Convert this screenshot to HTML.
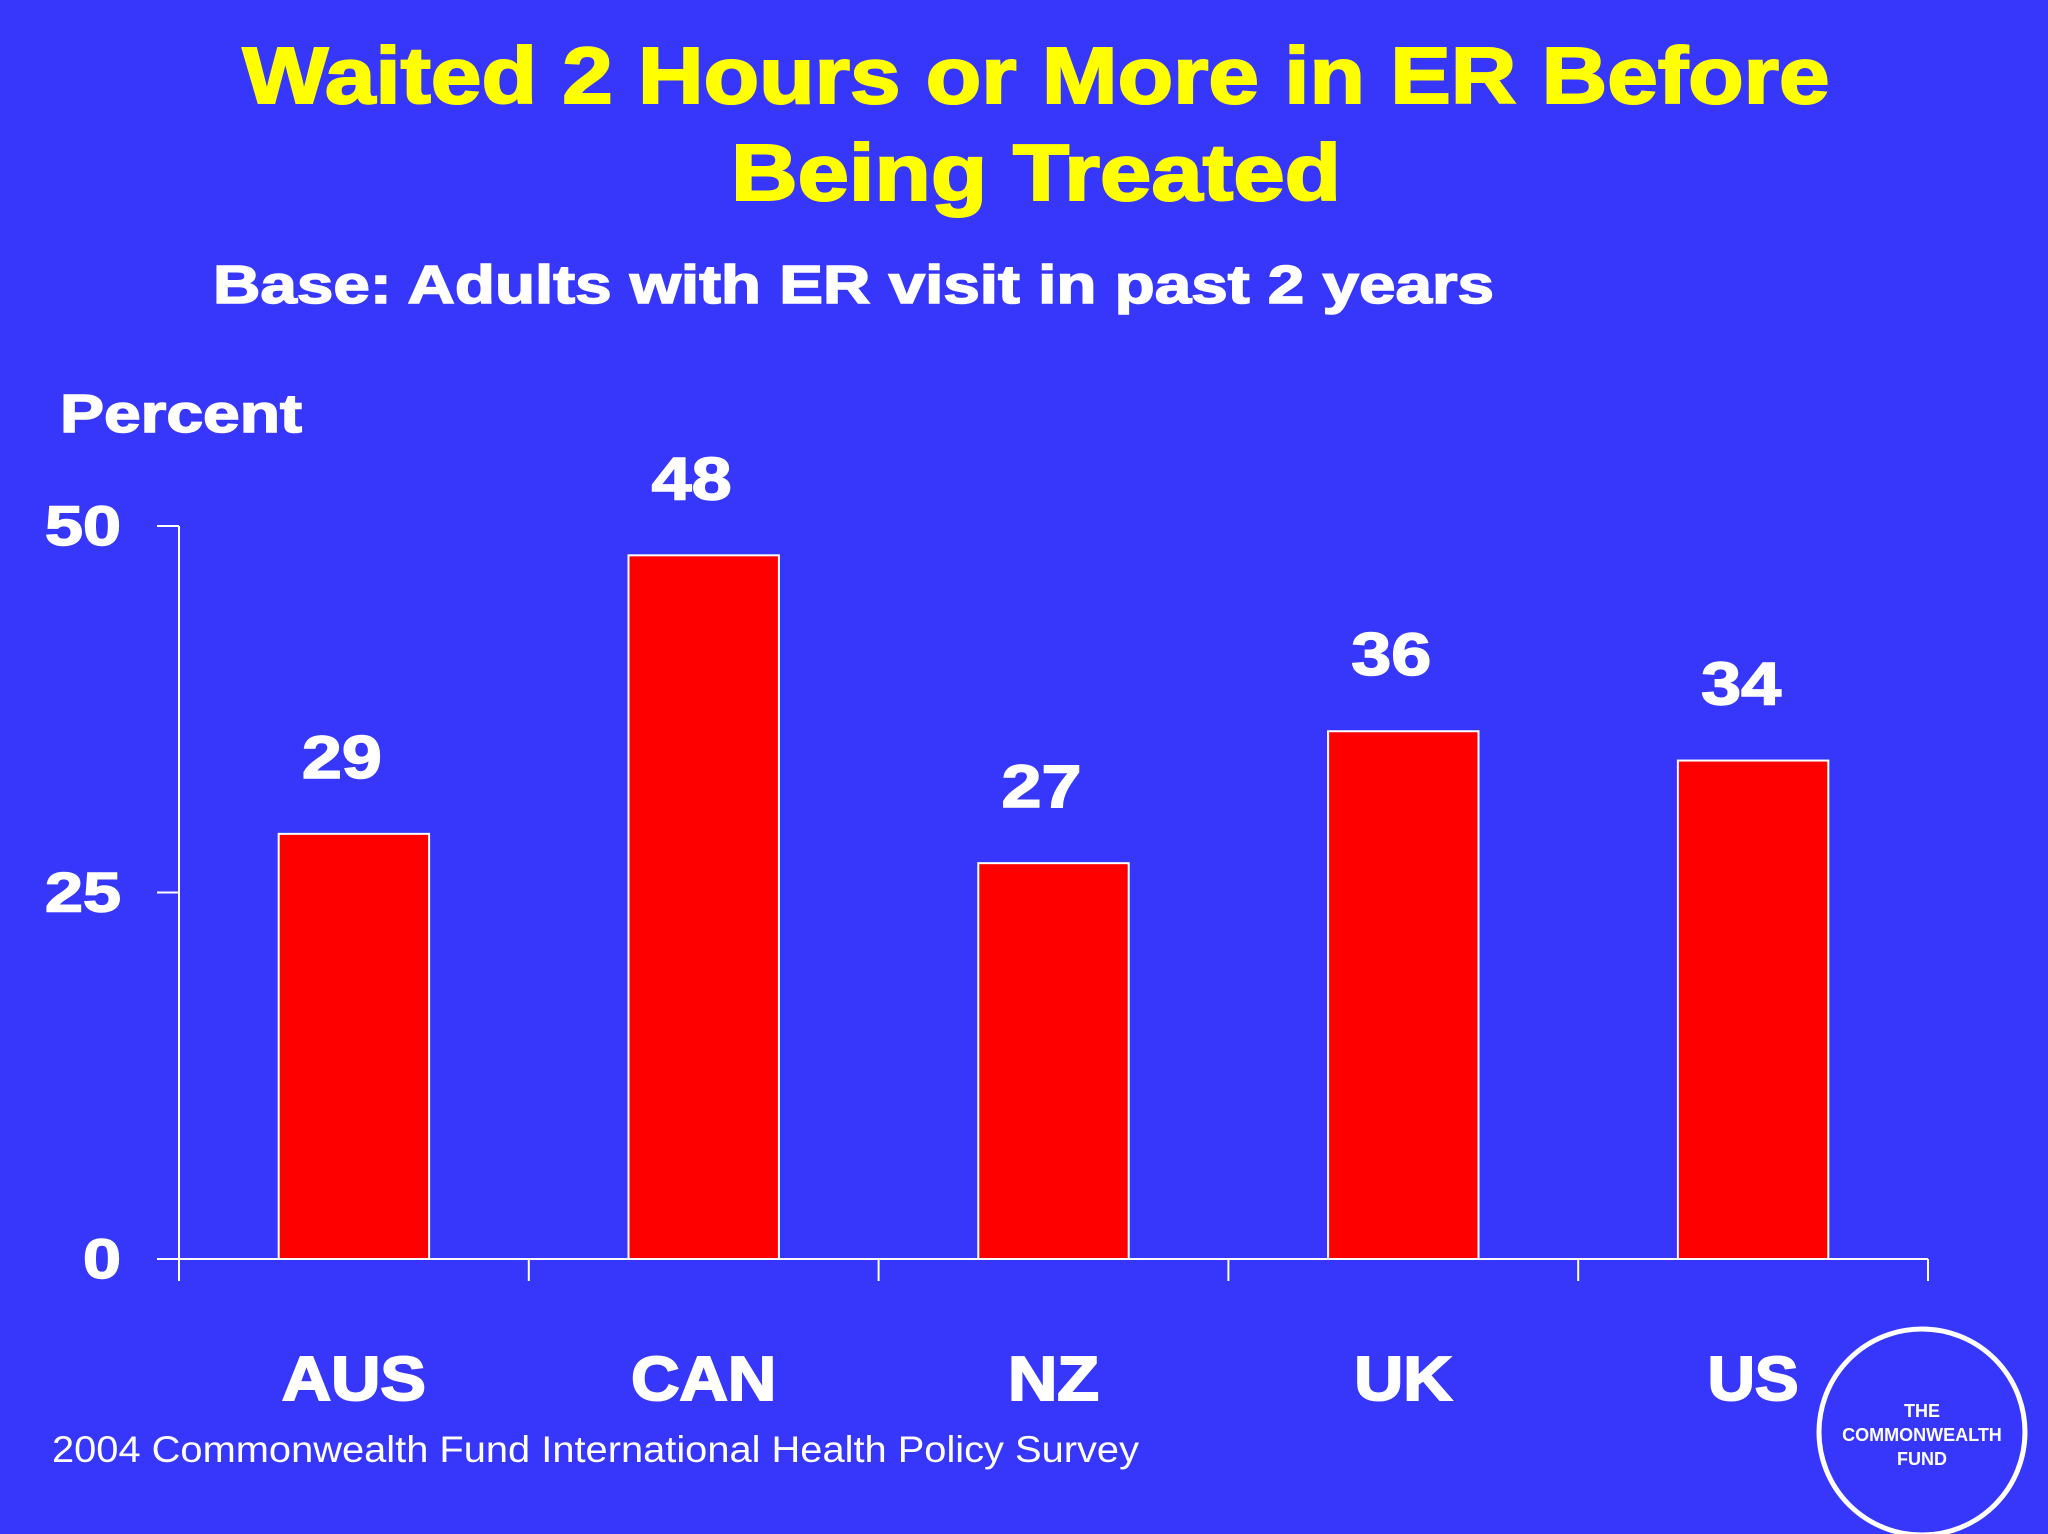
<!DOCTYPE html>
<html><head><meta charset="utf-8"><style>
html,body{margin:0;padding:0;background:#3737fb;}
svg{display:block;font-family:"Liberation Sans",Arial,sans-serif;}
</style></head><body>
<svg width="2048" height="1534" viewBox="0 0 2048 1534">
<rect width="2048" height="1534" fill="#3737fb"/>
<text x="1036" y="103" text-anchor="middle" fill="#ffff00" font-size="80" font-weight="900" textLength="1587" lengthAdjust="spacingAndGlyphs" stroke="#ffff00" stroke-width="2">Waited 2 Hours or More in ER Before</text>
<text x="1036" y="200" text-anchor="middle" fill="#ffff00" font-size="80" font-weight="900" textLength="610" lengthAdjust="spacingAndGlyphs" stroke="#ffff00" stroke-width="2">Being Treated</text>
<text x="213" y="303" fill="#fff" font-size="54" font-weight="bold" textLength="1281" lengthAdjust="spacingAndGlyphs" stroke="#fff" stroke-width="1.5">Base: Adults with ER visit in past 2 years</text>
<text x="60" y="432" fill="#fff" font-size="54" font-weight="bold" textLength="242" lengthAdjust="spacingAndGlyphs" stroke="#fff" stroke-width="1.5">Percent</text>
<g id="plot"></g>
<text x="52" y="1462" fill="#fff" font-size="37" textLength="1087" lengthAdjust="spacingAndGlyphs">2004 Commonwealth Fund International Health Policy Survey</text>
<g>
<circle cx="1922" cy="1432" r="103" fill="none" stroke="#fff" stroke-width="5"/>
<text x="1922" y="1417" text-anchor="middle" fill="#fff" font-size="18" font-weight="bold">THE</text>
<text x="1922" y="1441" text-anchor="middle" fill="#fff" font-size="18" font-weight="bold">COMMONWEALTH</text>
<text x="1922" y="1465" text-anchor="middle" fill="#fff" font-size="18" font-weight="bold">FUND</text>
</g>
</svg>
<script>
const categories = ["AUS","CAN","NZ","UK","US"];
const values = [29,48,27,36,34];
const tickValues = [0,25,50];
const tickLabels = ["0","25","50"];

const NS="http://www.w3.org/2000/svg";
const g=document.getElementById('plot');
const x0=179, x1=1928, y0=1259, yTop=526, yMax=50;
const band=(x1-x0)/categories.length;
const yScale=v=>y0-(v/yMax)*(y0-yTop);
const xCenter=i=>x0+band*(i+0.5);
function mk(tag,attrs){const e=document.createElementNS(NS,tag);for(const k in attrs)e.setAttribute(k,attrs[k]);g.appendChild(e);return e;}
const catW={AUS:144,CAN:145,NZ:91,UK:98,US:91};

const ya=mk('line',{x1:x0,y1:yTop,x2:x0,y2:y0+22,stroke:'#fff','stroke-width':2});


const xa=mk('line',{x1:157,y1:y0,x2:x1,y2:y0,stroke:'#fff','stroke-width':2});



tickValues.forEach((v,i)=>{
  const y=yScale(v);
  const t=mk('line',{x1:157,y1:y,x2:x0,y2:y,stroke:'#fff','stroke-width':2});
  
  
  const w=tickLabels[i].length*38;
  const l=mk('text',{x:121,y:y+19,'text-anchor':'end',fill:'#fff','font-size':56,'font-weight':'bold',stroke:'#fff','stroke-width':1.5,textLength:w,lengthAdjust:'spacingAndGlyphs'});
  l.textContent=tickLabels[i];
  
  
});
for(let i=1;i<=categories.length;i++){
  const x=x0+band*i;
  const t=mk('line',{x1:x,y1:y0,x2:x,y2:y0+22,stroke:'#fff','stroke-width':2});
  
  
}
const bw=band*0.43;
categories.forEach((c,i)=>{
  const cx=xCenter(i), y=yScale(values[i]);
  const r=mk('rect',{x:cx-bw/2,y:y,width:bw,height:y0-y,fill:'#ff0000',stroke:'#fff','stroke-width':2});
  
  
  const v=mk('text',{x:cx-12,y:y-56,'text-anchor':'middle',fill:'#fff','font-size':60,'font-weight':'bold',stroke:'#fff','stroke-width':1.5,textLength:String(values[i]).length*40,lengthAdjust:'spacingAndGlyphs'});
  v.textContent=values[i];
  
  
  const cl=mk('text',{x:cx,y:1400,'text-anchor':'middle',fill:'#fff','font-size':62,'font-weight':'900',stroke:'#fff','stroke-width':2,textLength:catW[c]||100,lengthAdjust:'spacingAndGlyphs'});
  cl.textContent=c;
  
  
});
</script>
</body></html>
